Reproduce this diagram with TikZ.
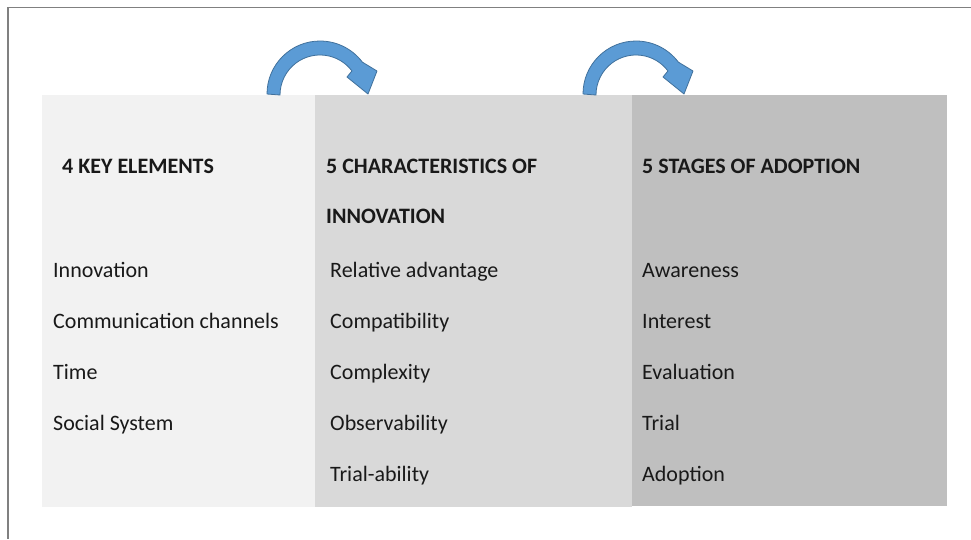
\documentclass[tikz,border=0pt]{standalone}
\usepackage{fontspec}
\setmainfont{Carlito}
\usetikzlibrary{calc}
\begin{document}
\begin{tikzpicture}[x=1pt,y=1pt,
  panel/.style={fill=#1,draw=none},
  head/.style={anchor=base west,inner sep=0pt,font=\fontsize{22}{26}\selectfont\bfseries,text=black!90},
  item/.style={anchor=base west,inner sep=0pt,font=\fontsize{22}{26}\selectfont,text=black!90},
  bluearrow/.style={fill=arrowblue,draw=arrowedge,line width=0.8pt,line join=round}]
\definecolor{arrowblue}{HTML}{5B9BD5}
\definecolor{arrowedge}{HTML}{41719C}
\definecolor{paneA}{HTML}{F2F2F2}
\definecolor{paneB}{HTML}{D9D9D9}
\definecolor{paneC}{HTML}{BFBFBF}
\definecolor{framegray}{HTML}{808080}
\useasboundingbox (0,0) rectangle (971,-539);
\fill[white] (0,0) rectangle (971,-539);
% outer frame (top and left edges)
\draw[framegray,line width=1.2pt] (971,-7.5) -- (8,-7.5) -- (8,-539);
% three column panels
\fill[panel=paneA] (42,-95) rectangle (315,-507);
\fill[panel=paneB] (315,-95) rectangle (632,-507);
\fill[panel=paneC] (632,-95) rectangle (947,-506);
% curved arrows between columns
\foreach \dx in {0,316}{
  \begin{scope}[xshift=\dx]
    \draw[bluearrow] (267,-94) arc[start angle=180,end angle=37,radius=53]
      -- (377,-71) -- (368,-94) -- (347,-77)
      -- ($(320,-95)+(37:40)$) arc[start angle=37,end angle=180,radius=40] -- cycle;
  \end{scope}
}
% column 1
\node[head] (h1) at (62,-173) {4 KEY ELEMENTS};
\node[item] (a1) at (53,-277) {Innovation};
\node[item] (a2) at (53,-328) {Communication channels};
\node[item] (a3) at (53,-379) {Time};
\node[item] (a4) at (53,-430) {Social System};
% column 2
\node[head] (h2a) at (326,-173) {5 CHARACTERISTICS OF};
\node[head] (h2b) at (326,-223) {INNOVATION};
\node[item] (b1) at (330,-277) {Relative advantage};
\node[item] (b2) at (330,-328) {Compatibility};
\node[item] (b3) at (330,-379) {Complexity};
\node[item] (b4) at (330,-430) {Observability};
\node[item] (b5) at (330,-481) {Trial-ability};
% column 3
\node[head] (h3) at (642,-173) {5 STAGES OF ADOPTION};
\node[item] (c1) at (642,-277) {Awareness};
\node[item] (c2) at (642,-328) {Interest};
\node[item] (c3) at (642,-379) {Evaluation};
\node[item] (c4) at (642,-430) {Trial};
\node[item] (c5) at (642,-481) {Adoption};
\end{tikzpicture}
\end{document}
